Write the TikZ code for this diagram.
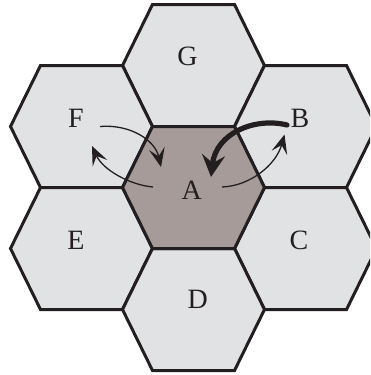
\documentclass[tikz,border=0pt]{standalone}
\usepackage{fontspec}
\setmainfont{Liberation Serif}
\usetikzlibrary{arrows.meta}
\definecolor{cellgrey}{HTML}{E1E2E4}
\definecolor{cellA}{HTML}{A79B99}
\definecolor{edgecol}{HTML}{231F20}
\tikzset{
  hexcell/.style={draw=edgecol, line width=3pt, line join=miter},
  lbl/.style={font=\fontsize{28}{28}\selectfont, text=edgecol, inner sep=0pt},
  thinarrow/.style={draw=edgecol, line width=1.3pt, -{Stealth[length=19pt,width=16pt,inset=8pt]}},
  thickarrow/.style={draw=edgecol, line width=5.2pt, line cap=round, -{Stealth[length=22pt,width=23pt,inset=8pt]}},
}
\newcommand{\hexcellat}[3]{%
  \path[hexcell, fill=#3] (#1,#2) ++(-71,0) -- ++(30,-61) -- ++(82,0) -- ++(30,61) -- ++(-30,61) -- ++(-82,0) -- cycle;}
\begin{document}
\begin{tikzpicture}[x=1pt,y=-1pt]
\useasboundingbox (0,0) rectangle (370,375);
\clip (0,0) rectangle (370,375);
% cells
\hexcellat{193.5}{65.5}{cellgrey}
\hexcellat{81.5}{126.5}{cellgrey}
\hexcellat{305.5}{126.5}{cellgrey}
\hexcellat{81.5}{248.5}{cellgrey}
\hexcellat{305.5}{248.5}{cellgrey}
\hexcellat{193.5}{309.5}{cellgrey}
\hexcellat{193.5}{187.5}{cellA}
% labels
\node[lbl] (G) at (187.5,56) {G};
\node[lbl] (F) at (76,118.3) {F};
\node[lbl] (B) at (300,118) {B};
\node[lbl] (A) at (191.7,190) {A};
\node[lbl] (E) at (76,240) {E};
\node[lbl] (C) at (299,240) {C};
\node[lbl] (D) at (197.8,299) {D};
% arrow end points
\coordinate (f1) at (100,126.5);
\coordinate (f1t) at (161,167);
\coordinate (f2) at (153,187);
\coordinate (f2t) at (92,146);
\coordinate (b1) at (287,125);
\coordinate (b1t) at (211,177);
\coordinate (b2) at (222,187);
\coordinate (b2t) at (284.5,134.5);
% arrows
\draw[thinarrow] (f1) .. controls (130,124) and (155,140) .. (f1t);
\draw[thinarrow] (f2) .. controls (130,185) and (103,170) .. (f2t);
\draw[thickarrow] (b1) .. controls (255,117) and (216,133) .. (b1t);
\draw[thinarrow] (b2) .. controls (250,186) and (276,165) .. (b2t);
\end{tikzpicture}
\end{document}
